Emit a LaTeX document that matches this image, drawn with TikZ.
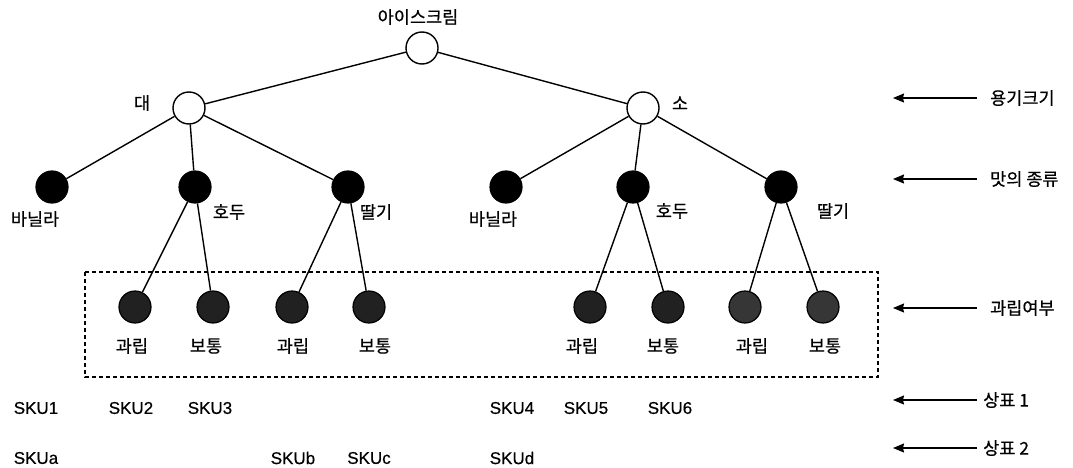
\documentclass[tikz,border=0pt]{standalone}
\usepackage{fontspec}
\setmainfont{Liberation Sans}
\newfontfamily\kr[FakeBold=0.6]{Noto Sans CJK KR}
\newfontfamily\skufont[FakeBold=0.5]{Liberation Sans}
\usetikzlibrary{arrows.meta}
\begin{document}
\begin{tikzpicture}[x=1pt,y=-1pt,
  edge/.style={line width=1.4pt},
  hollow/.style={circle,draw,line width=1.4pt,fill=white,minimum size=32pt,inner sep=0pt},
  flavor/.style={circle,draw,line width=1.2pt,fill=black,minimum size=32pt,inner sep=0pt},
  grain/.style={circle,draw,line width=1.2pt,fill=black!87,minimum size=32pt,inner sep=0pt},
  grainlt/.style={circle,draw,line width=1.2pt,fill=black!79,minimum size=32pt,inner sep=0pt},
  lbl/.style={inner sep=0pt,font=\kr\fontsize{17.5}{20}\selectfont},
  rlbl/.style={inner sep=0pt,anchor=west,font=\kr\fontsize{17.5}{20}\selectfont},
  sku/.style={inner sep=0pt,font=\skufont\fontsize{17}{20}\selectfont},
  level/.style={line width=1.2pt,-{Stealth[length=11pt,width=9pt,inset=1pt]}}]
\useasboundingbox (0,0) rectangle (1073,468);

% root and container size
\node[hollow] (root) at (422,48) {};
\node[lbl] (rootl) at (418,17) {아이스크림};
\node[hollow] (big) at (189,108) {};
\node[lbl] (bigl) at (142,103) {대};
\node[hollow] (small) at (643,108) {};
\node[lbl] (smalll) at (680,103) {소};

% flavours
\node[flavor] (v1) at (52,187) {};
\node[flavor] (w1) at (195,187) {};
\node[flavor] (s1) at (348,187) {};
\node[flavor] (v2) at (506,187) {};
\node[flavor] (w2) at (633,187) {};
\node[flavor] (s2) at (781,187) {};
\node[lbl] (v1l) at (35,219) {바닐라};
\node[lbl] (w1l) at (229,212) {호두};
\node[lbl] (s1l) at (376,212) {딸기};
\node[lbl] (v2l) at (493,219) {바닐라};
\node[lbl] (w2l) at (672,211) {호두};
\node[lbl] (s2l) at (833,211) {딸기};

% grain / plain
\node[grain] (g1) at (135,307) {};
\node[grain] (p1) at (213,307) {};
\node[grain] (g2) at (292,307) {};
\node[grain] (p2) at (369,307) {};
\node[grain] (g3) at (590,307) {};
\node[grain] (p3) at (668,307) {};
\node[grainlt] (g4) at (745,307) {};
\node[grainlt] (p4) at (823,307) {};
\foreach \n/\x/\t in {g1l/132/과립,p1l/206/보통,g2l/293/과립,p2l/375/보통,g3l/582/과립,p3l/663/보통,g4l/752/과립,p4l/825/보통}
  \node[lbl] (\n) at (\x,346) {\t};

% tree edges
\draw[edge] (root) -- (big);
\draw[edge] (root) -- (small);
\foreach \c in {v1,w1,s1} \draw[edge] (big) -- (\c);
\foreach \c in {v2,w2,s2} \draw[edge] (small) -- (\c);
\draw[edge] (w1) -- (g1); \draw[edge] (w1) -- (p1);
\draw[edge] (s1) -- (g2); \draw[edge] (s1) -- (p2);
\draw[edge] (w2) -- (g3); \draw[edge] (w2) -- (p3);
\draw[edge] (s2) -- (g4); \draw[edge] (s2) -- (p4);

% grouping frame
\draw[line width=1.2pt,dash pattern=on 4pt off 3pt] (85,272) rectangle (878,377);

% SKU rows
\node[sku] (k1) at (36,408) {SKU1};
\node[sku] (k2) at (131,408) {SKU2};
\node[sku] (k3) at (210,408) {SKU3};
\node[sku] (k4) at (512,408) {SKU4};
\node[sku] (k5) at (586,408) {SKU5};
\node[sku] (k6) at (670,408) {SKU6};
\node[sku] (ka) at (36,458) {SKUa};
\node[sku] (kb) at (293,458) {SKUb};
\node[sku] (kc) at (369,458) {SKUc};
\node[sku] (kd) at (512,458) {SKUd};

% level legend
\foreach \n/\y/\t/\x in {lv1/98/용기크기/990,lv2/179/맛의 종류/990,lv3/308/과립여부/990,lv4/400/상표 1/983,lv5/448/상표 2/983}{
  \node[rlbl] (\n) at (\x,\y) {\t};
  \coordinate (\n s) at (977,\y);
  \coordinate (\n e) at (893,\y);
  \draw[level] (\n s) -- (\n e);
}
\end{tikzpicture}
\end{document}
